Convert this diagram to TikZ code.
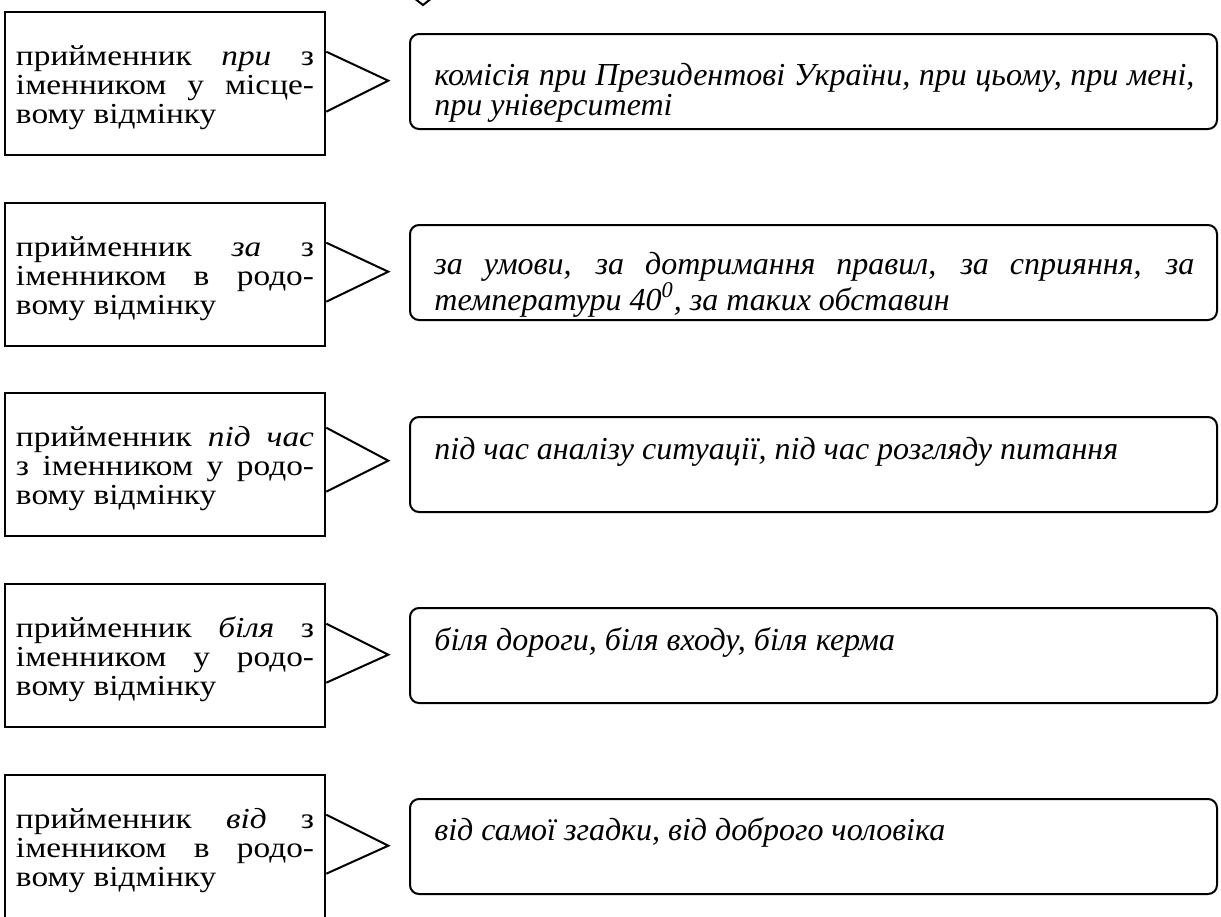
\documentclass[tikz,border=0pt]{standalone}
\usepackage{fontspec}
\setmainfont{Liberation Serif}
% slightly widened face for the left-hand column
\newfontfamily\termfont{Liberation Serif}[FakeStretch=1.15]
\usetikzlibrary{calc}

% left column: a preposition with the case it governs
\newcommand{\termpar}[1]{\parbox{149pt}{#1}}
% right column: usage examples, first line aligned on its baseline
\newcommand{\expar}[1]{\parbox[t]{380pt}{#1}}

\tikzset{
  termbox/.style={draw, line width=1.3pt, minimum width=160pt, minimum height=71.5pt, inner sep=0pt},
  termtext/.style={inner sep=0pt, font=\termfont\fontsize{14.5}{14.5}\selectfont},
  examplebox/.style={draw, line width=1pt, rounded corners=4.5pt, minimum width=403.5pt,
    minimum height=47.5pt, inner sep=0pt},
  extext/.style={anchor=base west, inner sep=0pt, font=\fontsize{16}{14}\selectfont\itshape},
  chevron/.style={line width=1pt, line join=miter},
}

\begin{document}
\begin{tikzpicture}[x=0.5pt, y=-0.5pt]
  \useasboundingbox (0,0) rectangle (1221,916);
  \clip (0,0) rectangle (1221,916);

  % tip of the chevron coming from above
  \draw[chevron] (414,-2) -- (423,5) -- (432,-2);

  % row 1
  \node[termbox] (L1) at (165,83.5) {};
  \node[termtext] (T1) at ($(L1.center)+(0,4)$)
    {\termpar{прийменник \textit{при} з\linebreak іменником у місце-\linebreak вому відмінку}};
  \node[examplebox] (R1) at (813.5,81.5) {};
  \node[extext] (E1) at ($(R1.north west)+(25,52)$)
    {\expar{комісія при Президентові України, при цьому, при мені,\linebreak при університеті}};
  \draw[chevron] ($(L1.north east)+(0,41)$) -- ($(L1.north east)+(62,70)$) -- ($(L1.north east)+(0,101)$);

  % row 2
  \node[termbox] (L2) at (165,274.5) {};
  \node[termtext] (T2) at ($(L2.center)+(0,4)$)
    {\termpar{прийменник \textit{за} з\linebreak іменником в родо-\linebreak вому відмінку}};
  \node[examplebox] (R2) at (813.5,272.5) {};
  \node[extext] (E2) at ($(R2.north west)+(25,50)$)
    {\expar{за умови, за дотримання правил, за сприяння, за\linebreak температури 40\textsuperscript{0}, за таких обставин}};
  \draw[chevron] ($(L2.north east)+(0,41)$) -- ($(L2.north east)+(62,70)$) -- ($(L2.north east)+(0,100)$);

  % row 3
  \node[termbox] (L3) at (165,464.5) {};
  \node[termtext] (T3) at ($(L3.center)+(0,4)$)
    {\termpar{прийменник \textit{під час}\linebreak з іменником у родо-\linebreak вому відмінку}};
  \node[examplebox] (R3) at (813.5,464.5) {};
  \node[extext] (E3) at ($(R3.north west)+(25,43)$)
    {\expar{під час аналізу ситуації, під час розгляду питання}};
  \draw[chevron] ($(L3.north east)+(0,36)$) -- ($(L3.north east)+(62,69)$) -- ($(L3.north east)+(0,100)$);

  % row 4
  \node[termbox] (L4) at (165,655.5) {};
  \node[termtext] (T4) at ($(L4.center)+(0,4)$)
    {\termpar{прийменник \textit{біля} з\linebreak іменником у родо-\linebreak вому відмінку}};
  \node[examplebox] (R4) at (813.5,655.5) {};
  \node[extext] (E4) at ($(R4.north west)+(25,43)$)
    {\expar{біля дороги, біля входу, біля керма}};
  \draw[chevron] ($(L4.north east)+(0,41)$) -- ($(L4.north east)+(62,72)$) -- ($(L4.north east)+(0,100)$);

  % row 5
  \node[termbox] (L5) at (165,846.5) {};
  \node[termtext] (T5) at ($(L5.center)+(0,4)$)
    {\termpar{прийменник \textit{від} з\linebreak іменником в родо-\linebreak вому відмінку}};
  \node[examplebox] (R5) at (813.5,846.5) {};
  \node[extext] (E5) at ($(R5.north west)+(25,42)$)
    {\expar{від самої згадки, від доброго чоловіка}};
  \draw[chevron] ($(L5.north east)+(0,41)$) -- ($(L5.north east)+(62,72)$) -- ($(L5.north east)+(0,100)$);
\end{tikzpicture}
\end{document}
